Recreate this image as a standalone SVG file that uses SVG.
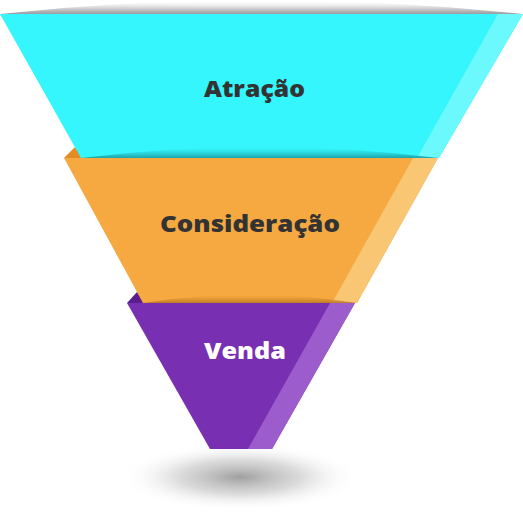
<svg xmlns="http://www.w3.org/2000/svg" width="523" height="526" viewBox="0 0 523 526">
<defs>
<linearGradient id="topShade" x1="0" y1="0" x2="0" y2="1">
<stop offset="0" stop-color="#ffffff" stop-opacity="0"/>
<stop offset="0.6" stop-color="#cfcfd2"/>
<stop offset="1" stop-color="#9c9ca0"/>
</linearGradient>
<linearGradient id="cyanShade" x1="0" y1="0" x2="0" y2="1">
<stop offset="0" stop-color="#2fd9de" stop-opacity="0"/>
<stop offset="1" stop-color="#1a9ea3" stop-opacity="0.95"/>
</linearGradient>
<linearGradient id="orangeShade" x1="0" y1="0" x2="0" y2="1">
<stop offset="0" stop-color="#e2932f" stop-opacity="0"/>
<stop offset="1" stop-color="#b8761f" stop-opacity="0.9"/>
</linearGradient>
<radialGradient id="floor" cx="0.5" cy="0.5" r="0.5">
<stop offset="0" stop-color="#959595" stop-opacity="0.9"/>
<stop offset="0.5" stop-color="#c2c2c2" stop-opacity="0.6"/>
<stop offset="1" stop-color="#ffffff" stop-opacity="0"/>
</radialGradient>
<style>
.lbl{font-family:"Open Sans","DejaVu Sans",sans-serif;font-weight:800;text-anchor:start}
.dark{fill:#333333}
.light{fill:#ffffff}
</style>
</defs>
<rect width="523" height="526" fill="#ffffff"/>
<ellipse cx="240" cy="477" rx="120" ry="34" fill="url(#floor)"/>
<g id="purple">
<path d="M127,303 L137,292 L145,303 Z" fill="#5a1f8c"/>
<path d="M127,303 L355,303 L272,449 L210,449 Z" fill="#782fb1"/>
<path d="M319,303 L355,303 L272,449 L248,449 L330,303 Z" fill="#9d5ccb"/>
<text class="lbl light" x="204" y="359" font-size="23" textLength="82" lengthAdjust="spacingAndGlyphs">Venda</text>
</g>
<g id="orange">
<path d="M64,158 L75,147 L83,158 Z" fill="#e38b24"/>
<path d="M64,158 L438,158 L357,303 L143,303 Z" fill="#f7a941"/>
<path d="M413,158 L438,158 L357,303 L332,303 Z" fill="#f9c673"/>
<path d="M143,303 Q250,286 357,303 Z" fill="url(#orangeShade)"/>
<text class="lbl dark" x="160" y="232" font-size="23" textLength="180" lengthAdjust="spacingAndGlyphs">Consideração</text>
</g>
<g id="cyan">
<path d="M0,14 Q261,-14 523,14 Z" fill="url(#topShade)"/>
<path d="M0,14 L523,14 L439,158 L81,158 Z" fill="#34f6fc"/>
<path d="M498,14 L523,14 L439,158 L417,158 Z" fill="#6cf9fd"/>
<path d="M81,158 Q260,136 439,158 Z" fill="url(#cyanShade)"/>
<text class="lbl dark" x="204" y="97" font-size="22" textLength="101" lengthAdjust="spacingAndGlyphs">Atração</text>
</g>
<g id="connectors"/>
</svg>
